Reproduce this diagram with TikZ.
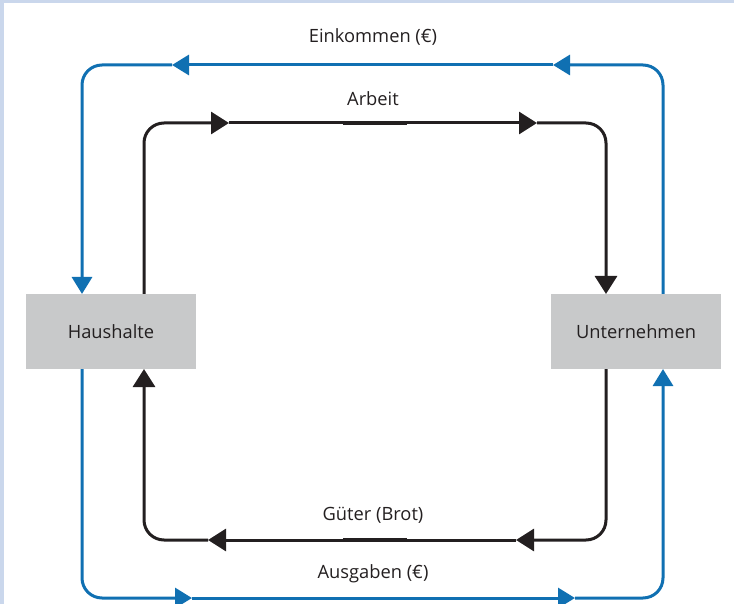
\documentclass[tikz,border=0pt]{standalone}
\usepackage{fontspec}
\setmainfont{Open Sans}
\usetikzlibrary{arrows.meta}
\definecolor{flowblue}{RGB}{16,112,178}
\definecolor{ink}{RGB}{35,31,32}
\definecolor{boxgray}{RGB}{200,201,202}
\definecolor{framebl}{RGB}{202,215,236}
\begin{document}
\begin{tikzpicture}[x=1pt,y=-1pt,
 box/.style={fill=boxgray, minimum width=170pt, minimum height=75pt, inner sep=0pt, font=\fontsize{18.3}{20}\selectfont, text=ink},
 lbl/.style={font=\fontsize{18.3}{20}\selectfont, text=ink},
 bflow/.style={draw=flowblue, line width=3pt, rounded corners=20pt, -{Triangle[length=17pt,width=20pt]}},
 kflow/.style={draw=ink, line width=3pt, rounded corners=20pt, -{Triangle[length=18pt,width=22pt]}},
 kmid/.style={draw=ink, line width=3.6pt},
]
\useasboundingbox (0,0) rectangle (734,604);
\fill[framebl] (0,0) rectangle (734,3);
\fill[framebl] (0,0) rectangle (4,604);
\node[box] (H) at (111,331.5) {Haushalte};
\node[box] (U) at (636,331.5) {Unternehmen};
% blue top loop
\coordinate (bUt) at (663,294);
\coordinate (bTR) at (663,65);
\coordinate (bTa1) at (553,65);
\coordinate (bTa2) at (172,65);
\coordinate (bTL) at (82,65);
\coordinate (bHt) at (82,294);
\draw[bflow] (bUt) -- (bTR) -- (bTa1);
\draw[bflow] (bTa1) -- (bTa2);
\draw[bflow] (bTa2) -- (bTL) -- (bHt);
% blue bottom loop
\coordinate (bHb) at (82,369);
\coordinate (bBL) at (82,598);
\coordinate (bBa1) at (192,598);
\coordinate (bBa2) at (575,598);
\coordinate (bBR) at (663,598);
\coordinate (bUb) at (663,369);
\draw[bflow] (bHb) -- (bBL) -- (bBa1);
\draw[bflow] (bBa1) -- (bBa2);
\draw[bflow] (bBa2) -- (bBR) -- (bUb);
% black top loop
\coordinate (kHt) at (144,294);
\coordinate (kTL) at (144,123);
\coordinate (kTa1) at (229,123);
\coordinate (kTa2) at (537,123);
\coordinate (kTR) at (606,123);
\coordinate (kUt) at (606,294);
\draw[kflow] (kHt) -- (kTL) -- (kTa1);
\draw[kflow] (kTa1) -- (kTa2);
\draw[kflow] (kTa2) -- (kTR) -- (kUt);
\coordinate (kTm1) at (343,123);
\coordinate (kTm2) at (407,123);
\draw[kmid] (kTm1) -- (kTm2);
% black bottom loop
\coordinate (kUb) at (606,369);
\coordinate (kBR) at (606,540);
\coordinate (kBa1) at (516,540);
\coordinate (kBa2) at (208,540);
\coordinate (kBL) at (144,540);
\coordinate (kHb) at (144,369);
\draw[kflow] (kUb) -- (kBR) -- (kBa1);
\draw[kflow] (kBa1) -- (kBa2);
\draw[kflow] (kBa2) -- (kBL) -- (kHb);
\coordinate (kBm1) at (343,540);
\coordinate (kBm2) at (407,540);
\draw[kmid] (kBm1) -- (kBm2);
% labels
\node[lbl] (lEin) at (373,37) {Einkommen (€)};
\node[lbl] (lArb) at (373,99) {Arbeit};
\node[lbl] (lGut) at (373,515) {Güter (Brot)};
\node[lbl] (lAus) at (373,574) {Ausgaben (€)};
\end{tikzpicture}
\end{document}
